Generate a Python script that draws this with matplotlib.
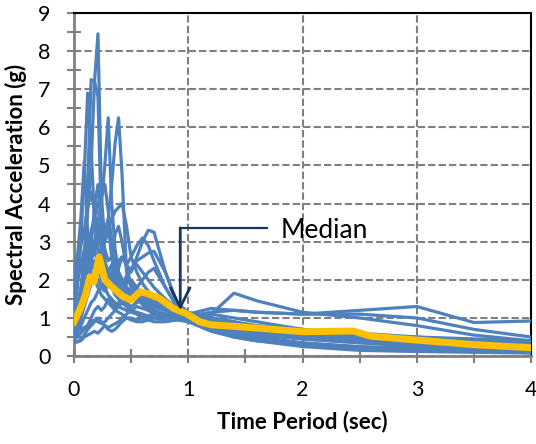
import matplotlib
matplotlib.use("Agg")
import matplotlib.pyplot as plt
import numpy as np

plt.rcParams['font.family'] = ['Lato', 'DejaVu Sans']

# periods (sec) shared by all records
periods = [0, 0.03, 0.06, 0.09, 0.12, 0.15, 0.18, 0.21, 0.24, 0.27, 0.30, 0.33, 0.36, 0.39,
           0.42, 0.46, 0.5, 0.55, 0.6, 0.65, 0.7, 0.8, 0.9, 1.0, 1.2, 1.4, 1.6, 2.0, 2.5, 3.0, 3.5, 4.0]

# spectral acceleration (g) of each ground motion record
rec01 = [1.0, 1.3, 1.8, 2.6, 3.8, 5.0, 7.2, 8.45, 4.2, 3.0, 3.4, 2.6, 2.1, 1.9, 1.7, 1.6, 1.5, 1.45, 1.4, 1.35, 1.3, 1.2, 1.1, 1.05, 0.9, 0.75, 0.65, 0.5, 0.4, 0.3, 0.25, 0.2]
rec02 = [0.8, 1.1, 1.6, 2.5, 4.5, 7.25, 7.2, 6.8, 3.5, 2.5, 2.2, 2.4, 2.0, 1.7, 1.5, 1.4, 1.3, 1.4, 1.5, 1.3, 1.2, 1.1, 1.05, 1.0, 0.8, 0.65, 0.55, 0.45, 0.35, 0.3, 0.2, 0.15]
rec03 = [1.2, 1.8, 3.0, 4.8, 6.9, 5.5, 3.5, 2.8, 2.4, 2.0, 2.2, 1.8, 1.6, 1.5, 1.4, 1.3, 1.2, 1.15, 1.1, 1.05, 1.0, 0.95, 0.95, 1.0, 1.1, 1.0, 0.9, 0.7, 0.55, 0.45, 0.35, 0.3]
rec04 = [0.7, 1.0, 1.5, 2.0, 2.5, 3.0, 2.8, 3.5, 4.0, 5.0, 6.25, 4.0, 2.8, 2.2, 2.0, 1.8, 1.7, 1.6, 1.5, 1.4, 1.35, 1.25, 1.15, 1.1, 1.0, 0.85, 0.7, 0.55, 0.45, 0.4, 0.35, 0.3]
rec05 = [0.6, 0.9, 1.3, 1.8, 2.2, 2.6, 3.0, 3.5, 3.2, 3.0, 3.6, 4.5, 5.6, 6.25, 4.8, 2.2, 1.8, 1.7, 1.6, 1.5, 1.4, 1.3, 1.2, 1.1, 0.95, 0.8, 0.7, 0.6, 0.5, 0.4, 0.3, 0.25]
rec06 = [2.0, 2.6, 3.6, 5.1, 3.2, 2.5, 2.8, 2.4, 2.0, 1.8, 1.6, 1.5, 1.4, 1.3, 1.25, 1.2, 1.15, 1.1, 1.0, 0.95, 0.9, 0.9, 0.95, 1.0, 1.0, 0.9, 0.75, 0.6, 0.5, 0.4, 0.3, 0.25]
rec07 = [0.9, 1.2, 1.6, 2.2, 2.8, 3.2, 3.5, 4.0, 4.2, 4.5, 3.8, 3.0, 2.4, 2.0, 1.8, 1.7, 1.6, 1.5, 1.45, 1.4, 1.3, 1.2, 1.1, 1.05, 0.95, 0.8, 0.7, 0.55, 0.45, 0.35, 0.3, 0.25]
rec08 = [0.5, 0.7, 1.0, 1.3, 1.6, 1.9, 2.2, 2.5, 2.8, 3.0, 3.3, 3.6, 3.8, 3.9, 4.0, 3.4, 2.6, 2.2, 1.9, 1.7, 1.5, 1.3, 1.15, 1.1, 1.0, 0.85, 0.75, 0.6, 0.5, 0.45, 0.4, 0.35]
rec09 = [0.5, 0.6, 0.8, 1.0, 1.2, 1.4, 1.5, 1.7, 1.8, 2.0, 2.2, 2.1, 2.0, 2.3, 2.6, 2.4, 2.2, 2.6, 3.0, 3.3, 3.25, 2.2, 1.4, 1.1, 0.9, 0.75, 0.65, 0.5, 0.4, 0.3, 0.25, 0.2]
rec10 = [0.6, 0.8, 1.1, 1.5, 1.9, 2.3, 2.5, 2.4, 2.2, 2.0, 1.9, 2.1, 2.3, 2.5, 2.6, 2.4, 2.6, 2.9, 3.1, 2.9, 2.5, 1.8, 1.3, 1.1, 1.0, 0.85, 0.75, 0.6, 0.5, 0.4, 0.3, 0.25]
rec11 = [0.8, 1.1, 1.6, 2.2, 2.8, 3.3, 3.6, 3.4, 2.8, 2.4, 2.2, 2.0, 1.9, 1.8, 1.9, 2.1, 2.3, 2.5, 2.6, 2.7, 2.75, 2.2, 1.4, 1.15, 1.0, 0.9, 0.8, 0.7, 0.6, 0.5, 0.4, 0.35]
rec12 = [0.4, 0.38, 0.4, 0.5, 0.55, 0.6, 0.65, 0.6, 0.7, 0.8, 0.7, 0.65, 0.7, 0.8, 0.9, 1.0, 1.0, 0.95, 1.0, 1.05, 1.1, 1.05, 1.0, 1.0, 1.1, 1.65, 1.45, 1.15, 1.0, 0.8, 0.55, 0.4]
rec13 = [0.35, 0.37, 0.45, 0.55, 0.7, 0.8, 0.9, 1.0, 0.9, 0.8, 0.75, 0.8, 0.85, 0.9, 1.0, 1.1, 1.2, 1.3, 1.25, 1.2, 1.15, 1.1, 1.05, 1.05, 1.15, 1.2, 1.15, 1.1, 1.2, 1.3, 0.88, 0.92]
rec14 = [0.9, 1.2, 1.5, 1.8, 2.0, 2.2, 2.0, 1.8, 1.6, 1.5, 1.4, 1.3, 1.2, 1.15, 1.1, 1.0, 0.95, 0.9, 0.9, 0.95, 1.0, 1.0, 1.05, 1.1, 1.25, 1.2, 1.15, 1.1, 1.1, 1.0, 0.7, 0.5]
rec15 = [1.5, 2.0, 2.3, 2.8, 3.0, 2.6, 2.2, 2.0, 1.8, 1.7, 1.9, 2.2, 2.4, 2.2, 2.0, 1.8, 1.6, 1.5, 1.4, 1.3, 1.2, 1.1, 1.0, 0.9, 0.7, 0.55, 0.45, 0.3, 0.2, 0.15, 0.12, 0.1]
rec16 = [0.7, 0.9, 1.2, 1.6, 2.2, 2.9, 3.9, 4.5, 3.5, 2.8, 2.5, 2.6, 3.2, 3.4, 3.0, 2.3, 1.9, 1.7, 1.6, 1.5, 1.4, 1.25, 1.1, 0.95, 0.75, 0.6, 0.5, 0.35, 0.25, 0.2, 0.15, 0.1]
rec17 = [0.45, 0.5, 0.6, 0.7, 0.8, 0.9, 0.95, 0.9, 0.85, 0.9, 1.0, 1.1, 1.2, 1.3, 1.4, 1.5, 1.6, 1.8, 2.0, 2.2, 2.3, 1.8, 1.3, 1.0, 0.7, 0.5, 0.4, 0.25, 0.15, 0.12, 0.1, 0.08]
rec18 = [1.8, 2.3, 2.9, 3.3, 3.9, 4.3, 3.8, 3.2, 2.9, 3.3, 3.6, 3.0, 2.5, 2.2, 1.9, 1.7, 1.6, 1.5, 1.35, 1.2, 1.1, 1.0, 0.95, 0.9, 0.65, 0.5, 0.4, 0.3, 0.22, 0.18, 0.14, 0.12]
rec19 = [1.1, 1.3, 1.7, 2.0, 2.4, 2.7, 3.0, 2.8, 2.5, 2.3, 2.1, 1.9, 1.8, 1.7, 1.8, 2.0, 2.3, 2.4, 2.2, 2.0, 1.8, 1.5, 1.25, 1.1, 0.95, 0.85, 0.75, 0.65, 0.55, 0.5, 0.45, 0.4]
rec20 = [0.6, 0.65, 0.7, 0.75, 0.8, 1.0, 1.2, 1.3, 1.2, 1.3, 1.5, 1.4, 1.3, 1.4, 1.6, 1.9, 2.0, 1.8, 1.6, 1.5, 1.4, 1.3, 1.2, 1.1, 0.9, 0.7, 0.6, 0.45, 0.35, 0.25, 0.2, 0.18]

records = [rec01, rec02, rec03, rec04, rec05, rec06, rec07, rec08, rec09, rec10,
           rec11, rec12, rec13, rec14, rec15, rec16, rec17, rec18, rec19, rec20]

# median spectrum
median_T = [0, 0.05, 0.1, 0.14, 0.175, 0.22, 0.27, 0.33, 0.43, 0.5, 0.58, 0.66, 0.75,
            0.87, 0.98, 1.1, 1.2, 1.4, 1.62, 2.0, 2.3, 2.44, 2.6, 3.0, 3.5, 4.0]
median_sa = [0.9, 1.2, 1.6, 2.08, 1.95, 2.6, 2.0, 1.82, 1.56, 1.47, 1.69, 1.62, 1.51,
             1.25, 1.12, 0.9, 0.82, 0.78, 0.73, 0.64, 0.65, 0.66, 0.52, 0.42, 0.3, 0.22]

fig = plt.figure(figsize=(5.36, 4.44), dpi=100)
ax = fig.add_axes([0.138, 0.198, 0.853, 0.773])

for rec in records:
    ax.plot(periods, rec, color='#4f81bd', lw=2.3, zorder=3)
ax.plot(median_T, median_sa, color='#ffc000', lw=5, zorder=4)

# leader line + arrow for the median label
arrow_col = '#17375e'
ax.plot([0.93, 1.69], [3.35, 3.35], color=arrow_col, lw=1.6, zorder=5)
ax.annotate('', xy=(0.93, 1.2), xytext=(0.93, 3.36),
            arrowprops=dict(arrowstyle='->,head_length=0.7,head_width=0.35',
                            color=arrow_col, lw=2, shrinkA=0, shrinkB=0,
                            mutation_scale=20),
            zorder=6)
ax.text(1.81, 3.3, 'Median', fontsize=19, va='center', ha='left', zorder=5)

ax.set_xlim(0, 4)
ax.set_ylim(0, 9)
ax.set_xticks(range(0, 5))
ax.set_yticks(range(0, 10))
ax.set_xticks(np.arange(0.5, 4, 1), minor=True)
ax.set_yticks(np.arange(0.5, 9, 1), minor=True)
ax.tick_params(which='both', direction='inout', length=10, width=1.5, color='#808080')
ax.tick_params(axis='both', which='major', labelsize=15.5, pad=12)

ax.grid(True, which='major', color='#808080', lw=1.5, linestyle=(0, (3.5, 1.5)), zorder=1)

for s in ['left', 'bottom']:
    ax.spines[s].set_color('#808080')
    ax.spines[s].set_linewidth(2)
for s in ['top', 'right']:
    ax.spines[s].set_color('black')
    ax.spines[s].set_linewidth(1.5)

ax.set_xlabel('Time Period (sec)', fontsize=16, fontweight='bold', labelpad=8)
ax.set_ylabel('Spectral Acceleration (g)', fontsize=16, fontweight='bold', labelpad=8)

fig.savefig('out.png', dpi=100)
